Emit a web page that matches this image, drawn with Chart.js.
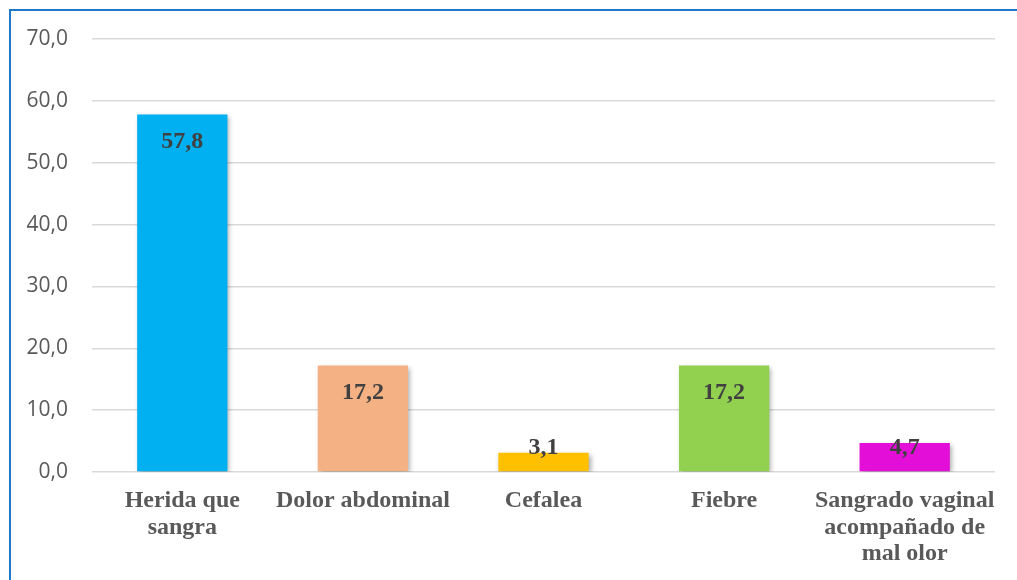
<!DOCTYPE html>
<html>
<head>
<meta charset="utf-8">
<script src="https://cdn.jsdelivr.net/npm/chart.js@4"></script>
<style>
  html, body { margin: 0; padding: 0; background: #fff; overflow: hidden; }
  #wrap { position: relative; width: 1017px; height: 580px; }
  #marco { position: absolute; left: 9px; top: 9px; width: 1200px; height: 800px; border: 2px solid #1f78c8; box-sizing: border-box; }
  canvas { position: absolute; left: 0; top: 0; }
</style>
</head>
<body>
<div id="wrap">
  <div id="marco"></div>
  <canvas id="grafico" width="1017" height="580"></canvas>
</div>
<script>
// Signos de alarma (%)
const categorias = [['Herida que', 'sangra'], 'Dolor abdominal', 'Cefalea', 'Fiebre', ['Sangrado vaginal', 'acompañado de', 'mal olor']];
const porcentajes = [57.8, 17.2, 3.1, 17.2, 4.7];
const colores = ['#00b0f0', '#f4b183', '#ffc000', '#92d050', '#e30fd8'];

const fmt = v => v.toFixed(1).replace('.', ',');

// etiquetas de valor dentro de la barra
const etiquetas = {
  id: 'etiquetas',
  afterDatasetsDraw(chart) {
    const c = chart.ctx;
    const meta = chart.getDatasetMeta(0);
    const base = chart.scales.y.getPixelForValue(0);
    c.save();
    c.font = 'bold 24px "Liberation Serif", "Times New Roman", serif';
    c.fillStyle = '#404040';
    c.textAlign = 'center';
    c.textBaseline = 'middle';
    meta.data.forEach((bar, i) => {
      const y = Math.min(bar.y + 27, base - 24);
      c.fillText(fmt(porcentajes[i]), bar.x, y);
    });
    c.restore();
  }
};

// sombra suave de las barras
const sombra = {
  id: 'sombra',
  beforeDatasetsDraw(chart) {
    const c = chart.ctx;
    c.save();
    c.shadowColor = 'rgba(0,0,0,0.35)';
    c.shadowBlur = 5;
    c.shadowOffsetX = 2;
    c.shadowOffsetY = 2;
  },
  afterDatasetsDraw(chart) {
    chart.ctx.restore();
  }
};

const ctx = document.getElementById('grafico').getContext('2d');
new Chart(ctx, {
  type: 'bar',
  data: {
    labels: categorias,
    datasets: [{
      data: porcentajes,
      backgroundColor: colores,
      categoryPercentage: 1,
      barPercentage: 0.5
    }]
  },
  options: {
    responsive: false,
    animation: false,
    layout: { padding: { top: 39, right: 22, left: 0, bottom: 0 } },
    plugins: {
      legend: { display: false },
      tooltip: { enabled: false }
    },
    scales: {
      x: {
        grid: { display: false },
        border: { display: false },
        ticks: {
          color: '#595959',
          padding: 8,
          maxRotation: 0,
          autoSkip: false,
          font: { family: '"Liberation Serif", "Times New Roman", serif', size: 24, weight: 'bold', lineHeight: 1.1 }
        },
        afterFit(scale) { scale.height = 108; }
      },
      y: {
        min: 0,
        max: 70,
        ticks: {
          stepSize: 10,
          color: '#595959',
          padding: 24,
          callback: v => fmt(v),
          font: { family: '"Open Sans", "Noto Sans", sans-serif', size: 21 }
        },
        grid: { color: '#d9d9d9', lineWidth: 1.5, drawTicks: false },
        border: { display: false },
        afterFit(scale) { scale.width = 92; }
      }
    }
  },
  plugins: [sombra, etiquetas]
});
</script>
</body>
</html>
